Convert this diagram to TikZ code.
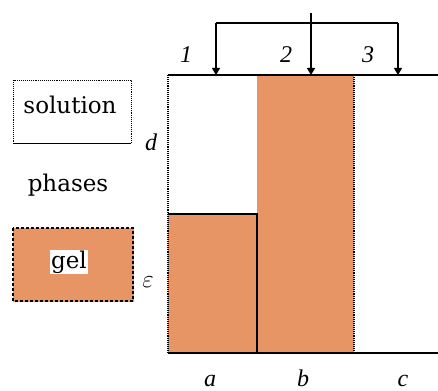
\documentclass[tikz,border=0pt]{standalone}
\usepackage{fontspec}
\setmainfont{Liberation Serif}
\newfontfamily\legfont{DejaVu Serif}
\usetikzlibrary{arrows.meta}
\definecolor{gelc}{RGB}{231,149,100}
\tikzset{
  edge/.style={line width=1.1pt, black},
  dotedge/.style={line width=1.1pt, black, densely dotted},
  lbl/.style={font=\fontsize{24}{24}\selectfont\itshape, inner sep=0pt},
  txt/.style={font=\legfont\fontsize{23}{23}\selectfont, inner sep=1pt},
  arr/.style={line width=1.1pt, -{Triangle[width=8pt,length=7pt]}}
}
\begin{document}
\begin{tikzpicture}[x=1pt,y=-1pt]
\useasboundingbox (0,0) rectangle (438,390);
% gel regions
\fill[gelc] (168,214) rectangle (257,353);
\fill[gelc] (257,75) rectangle (354,353);
% container lines
\coordinate (tl) at (168,75);
\coordinate (tr) at (438,75);
\coordinate (bl) at (168,353);
\coordinate (br) at (438,353);
\draw[edge] (tl) -- (tr);
\draw[edge] (bl) -- (br);
\draw[dotedge] (tl) -- (bl);
\draw[edge] (168,214) -- (257,214) -- (257,353);
\draw[dotedge] (354,75) -- (354,353);
% arrows
\coordinate (h1) at (216,23);
\coordinate (h3) at (398,23);
\coordinate (m0) at (311,13);
\coordinate (a1) at (216,75);
\coordinate (a2) at (311,75);
\coordinate (a3) at (398,75);
\draw[edge] (h1) -- (h3);
\draw[arr] (h1) -- (a1);
\draw[arr] (h3) -- (a3);
\draw[arr, line width=1.6pt] (m0) -- (a2);
% labels
\node[lbl] (n1) at (186,55) {1};
\node[lbl] (n2) at (286,55) {2};
\node[lbl] (n3) at (368,55) {3};
\node[lbl] (nd) at (151,142) {d};
\node[lbl] (ne) at (148,282) {$\varepsilon$};
\node[lbl, anchor=base] (na) at (210,386) {a};
\node[lbl, anchor=base] (nb) at (303,386) {b};
\node[lbl, anchor=base] (nc) at (403,386) {c};
% legend
\draw[dotedge, line width=0.8pt] (131,143) -- (131,80) -- (13,80) -- (13,143);
\draw[edge, line width=0.8pt] (13,143) -- (131,143);
\node[txt] (sol) at (70,105) {solution};
\node[txt] (ph) at (68,185) {phases};
\draw[gelc, fill=gelc] (13,228) rectangle (133,301);
\draw[black, line width=1.4pt, densely dashed] (13,228) rectangle (133,301);
\node[txt, fill=white] (gel) at (69,262) {gel};
\end{tikzpicture}
\end{document}
